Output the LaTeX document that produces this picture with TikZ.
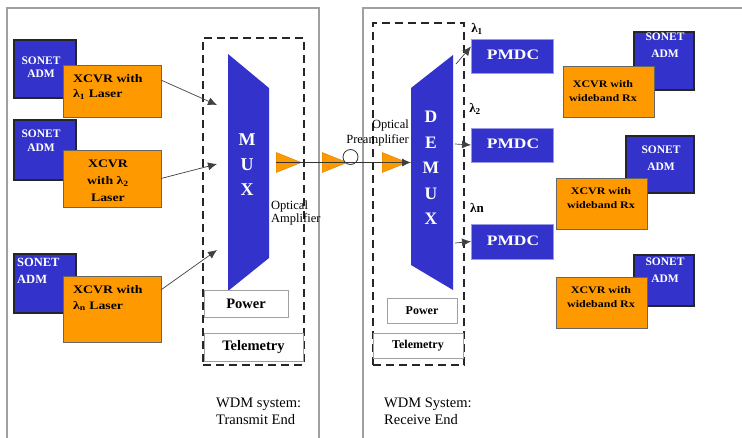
\documentclass[tikz,border=0pt]{standalone}
\usepackage{fontspec}
\setmainfont{Liberation Serif}
\newfontfamily\widefont[FakeStretch=1.2]{Liberation Serif}
\usetikzlibrary{arrows.meta,calc,shapes.geometric}
\definecolor{sblue}{HTML}{3333CC}
\definecolor{orng}{HTML}{FF9900}
\definecolor{panelgray}{HTML}{A0A0A0}
\begin{document}
\begin{tikzpicture}[x=1pt,y=-1pt,
  box/.style={anchor=north west, inner sep=0pt, outer sep=0pt},
  adm/.style={box, draw=black!85, line width=1.1pt, fill=sblue},
  xcvr/.style={box, draw=black!60, line width=0.6pt, fill=orng},
  pmdc/.style={box, draw=sblue!50, line width=0.5pt, fill=sblue},
  plainbox/.style={box, draw=panelgray, line width=1pt, fill=white},
  admtext/.style={text=white, align=center, inner sep=0pt, font=\bfseries\fontsize{11.5}{13.5}\selectfont},
  xtext/.style={text=black, inner sep=0pt, font=\widefont\bfseries\fontsize{11.5}{15}\selectfont},
  rxtext/.style={text=black, align=center, inner sep=0pt, font=\widefont\bfseries\fontsize{10}{14.5}\selectfont},
  bigletters/.style={text=white, align=center, inner sep=0pt, font=\bfseries\fontsize{18}{25}\selectfont},
  pmdctext/.style={text=white, inner sep=0pt, font=\widefont\bfseries\fontsize{14.5}{15}\selectfont},
  dashbox/.style={draw=black!85, line width=2.2pt, dash pattern=on 8pt off 5pt},
  panel/.style={draw=panelgray, line width=1.2pt},
  link/.style={draw=black!75, line width=0.7pt, -{Latex[length=9pt,width=8pt]}},
  fiber/.style={draw=black!80, line width=0.8pt},
  amp/.style={isosceles triangle, isosceles triangle stretches, shape border rotate=0,
    minimum width=20pt, minimum height=25pt, fill=orng, draw=orng!85!black, line width=0.4pt, inner sep=0pt},
  smalltext/.style={inner sep=0pt, font=\fontsize{12.5}{13}\selectfont}
]
\useasboundingbox (0,0) rectangle (742,437);

% panels
\draw[panel] (7,445) -- (7,8) -- (319,8) -- (319,445);
\draw[panel] (363,445) -- (363,8) -- (750,8);

% transmit dashed box
\node[box, minimum width=101pt, minimum height=327pt, dashbox] (txbox) at (203,38) {};
% receive dashed box
\node[box, minimum width=91pt, minimum height=342pt, dashbox] (rxbox) at (373,23) {};

% left SONET ADMs
\node[adm, minimum width=62pt, minimum height=58pt] (ladm1) at (14,40) {};
\node[adm, minimum width=62pt, minimum height=60pt] (ladm2) at (14,120) {};
\node[adm, minimum width=62pt, minimum height=59pt] (ladm3) at (14,254) {};
\node[admtext] (ladm1t) at (41,67) {SONET\\ADM};
\node[admtext] (ladm2t) at (41,140.5) {SONET\\ADM};
\node[admtext, align=left, anchor=west, font=\bfseries\fontsize{12.5}{17}\selectfont] (ladm3t) at (17,271) {SONET\\ADM};

% left XCVRs
\node[xcvr, minimum width=98pt, minimum height=52pt] (lx1) at (63,65) {};
\node[xcvr, minimum width=98pt, minimum height=57pt] (lx2) at (63,150) {};
\node[xcvr, minimum width=98pt, minimum height=66pt] (lx3) at (63,276) {};
\node[xtext, align=left, anchor=west] (lx1t) at (73,87) {XCVR with\\λ\textsubscript{1} Laser};
\node[xtext, align=center, font=\widefont\bfseries\fontsize{11.5}{17}\selectfont] (lx2t) at (108,181) {XCVR\\with λ\textsubscript{2}\\Laser};
\node[xtext, align=left, anchor=west, font=\widefont\bfseries\fontsize{11.5}{16}\selectfont] (lx3t) at (73,298) {XCVR with\\λ\textsubscript{n} Laser};

% MUX
\path[fill=sblue] (228,54) -- (269,88) -- (269,258) -- (228,291) -- cycle;
\node[bigletters] (mux) at (247,165) {M\\U\\X};

% transmit power / telemetry
\node[plainbox, minimum width=84pt, minimum height=27pt] (tpow) at (204,290) {};
\node[font=\bfseries\fontsize{14.5}{15}\selectfont, inner sep=0pt] at (tpow.center) {Power};
\node[plainbox, minimum width=99pt, minimum height=28pt] (ttel) at (204,333) {};
\node[font=\bfseries\fontsize{14.5}{15}\selectfont, inner sep=0pt] at (ttel.center) {Telemetry};

% input arrows
\coordinate (in1) at (217,105);
\coordinate (in2) at (217,164);
\coordinate (in3) at (217,250);
\draw[link] ($(lx1.north east)!0.29!(lx1.south east)$) -- (in1);
\draw[link] (lx2.east) -- (in2);
\draw[link] ($(lx3.north east)!0.21!(lx3.south east)$) -- (in3);

% amplifiers
\node[amp] (amp1) at (283,162.5) {};
\node[amp] (amp2) at (329,162.5) {};
\node[amp] (amp3) at (389,162.5) {};
\node[circle, draw=black!80, line width=0.8pt, fill=white, minimum size=15pt, inner sep=0pt] (tap) at (350.5,157) {};
\coordinate (dmin) at (411,162.5);
\draw[fiber] (amp1.west) -- (amp3.west);
\draw[link, line width=0.8pt] (amp3.west) -- (dmin);

\node[smalltext, align=left, anchor=west] (oa) at (271,213) {Optical\\Amplifier};
\node[smalltext, align=right, anchor=east, font=\fontsize{12.5}{15}\selectfont] (opa) at (409,132.5) {Optical\\Preamplifier};

% DEMUX
\path[fill=sblue] (411,88) -- (453,55) -- (453,290) -- (411,265) -- cycle;
\node[bigletters, font=\bfseries\fontsize{17.5}{25.5}\selectfont] (demux) at (431,168) {D\\E\\M\\U\\X};

% receive power / telemetry
\node[plainbox, minimum width=70pt, minimum height=25pt] (rpow) at (387,298) {};
\node[font=\bfseries\fontsize{12}{13}\selectfont, inner sep=0pt] at (rpow.center) {Power};
\node[plainbox, minimum width=90pt, minimum height=25pt] (rtel) at (373,333) {};
\node[font=\bfseries\fontsize{12}{13}\selectfont, inner sep=0pt] at (rtel.center) {Telemetry};

% PMDCs
\node[pmdc, minimum width=82pt, minimum height=34pt] (p1) at (471,39) {};
\node[pmdc, minimum width=82pt, minimum height=34pt] (p2) at (471,128) {};
\node[pmdc, minimum width=82pt, minimum height=35pt] (p3) at (471,224) {};
\node[pmdctext] at ($(p1.center)+(1,-1)$) {PMDC};
\node[pmdctext] at ($(p2.center)+(1,-1)$) {PMDC};
\node[pmdctext] at ($(p3.center)+(1,-1)$) {PMDC};

% wavelength labels
\node[inner sep=0pt, font=\bfseries\fontsize{13}{13}\selectfont] (l1) at (477,29) {λ\textsubscript{1}};
\node[inner sep=0pt, font=\bfseries\fontsize{13}{13}\selectfont] (l2) at (475,109) {λ\textsubscript{2}};
\node[inner sep=0pt, font=\bfseries\fontsize{13}{13}\selectfont] (l3) at (477,208) {λn};

% demux output arrows
\coordinate (d1) at (456,64);
\coordinate (d2) at (455,144);
\coordinate (d3) at (455,243);
\draw[link] (d1) -- ($(p1.north west)!0.22!(p1.south west)$);
\draw[link] (d2) -- (p2.west);
\draw[link] (d3) -- (p3.west);

% right SONET ADMs
\node[adm, minimum width=60pt, minimum height=58pt] (radm1) at (634,32) {};
\node[adm, minimum width=68pt, minimum height=57pt] (radm2) at (626,136) {};
\node[adm, minimum width=60pt, minimum height=51pt] (radm3) at (634,255) {};
\node[admtext, font=\bfseries\fontsize{11.5}{17}\selectfont] (radm1t) at (665,45.5) {SONET\\ADM};
\node[admtext, font=\bfseries\fontsize{11.5}{17}\selectfont] (radm2t) at (661,158.5) {SONET\\ADM};
\node[admtext, font=\bfseries\fontsize{11.5}{17}\selectfont] (radm3t) at (665,270.5) {SONET\\ADM};

% right XCVRs
\node[xcvr, minimum width=91pt, minimum height=51pt] (rx1) at (563,66) {};
\node[xcvr, minimum width=91pt, minimum height=51pt] (rx2) at (556,178) {};
\node[xcvr, minimum width=91pt, minimum height=51pt] (rx3) at (556,277) {};
\node[rxtext] (rx1t) at (603,91) {XCVR with\\wideband Rx};
\node[rxtext] (rx2t) at (601,198) {XCVR with\\wideband Rx};
\node[rxtext] (rx3t) at (601,297) {XCVR with\\wideband Rx};

% captions
\node[inner sep=0pt, align=left, anchor=west, font=\fontsize{14.5}{17}\selectfont] (cap1) at (216,411.5) {WDM system:\\Transmit End};
\node[inner sep=0pt, align=left, anchor=west, font=\fontsize{14.5}{17}\selectfont] (cap2) at (384,411.5) {WDM System:\\Receive End};
\end{tikzpicture}
\end{document}
